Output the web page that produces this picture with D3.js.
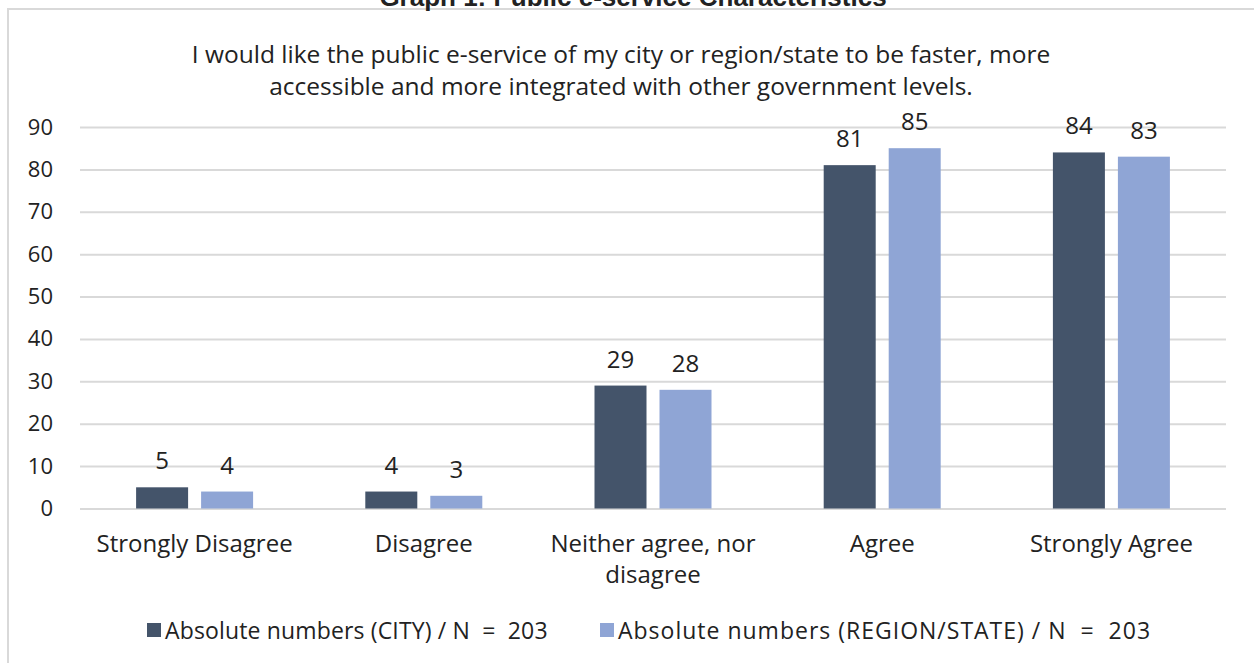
<!DOCTYPE html>
<html>
<head>
<meta charset="utf-8">
<script src="https://cdn.jsdelivr.net/npm/d3@7"></script>
<style>
  body { margin: 0; background: #fff; }
  svg { display: block; font-family: "Open Sans", Lato, sans-serif; }
</style>
</head>
<body>
<svg id="chart" width="1254" height="663"></svg>
<script>
/* Chart data */
var categories = ["Strongly Disagree", "Disagree", "Neither agree, nor disagree", "Agree", "Strongly Agree"];
var cityValues = [5, 4, 29, 81, 84];
var regionValues = [4, 3, 28, 85, 83];
var seriesNames = ["Absolute numbers (CITY) / N  =  203", "Absolute numbers (REGION/STATE) / N  =  203"];
var yTicks = [0, 10, 20, 30, 40, 50, 60, 70, 80, 90];

var colors = ["#44546a", "#8fa5d5"];
var svg = d3.select("#chart");

// outer frame, cut by the window on right and bottom
svg.append("rect")
    .attr("x", 8).attr("y", 9)
    .attr("width", 1300).attr("height", 700)
    .attr("fill", "#fff")
    .attr("stroke", "#d9d9d9")
    .attr("stroke-width", 2);

// title of the graph, mostly cut off by the top edge
svg.append("text")
    .attr("x", 633).attr("y", 6)
    .attr("text-anchor", "middle")
    .style("font-family", "'Liberation Sans Narrow', 'Liberation Sans', sans-serif")
    .style("font-weight", "bold")
    .style("font-size", "26px")
    .attr("fill", "#222")
    .text("Graph 1: Public e-service Characteristics");

// chart subtitle
var sub = svg.append("text")
    .attr("text-anchor", "middle")
    .style("font-size", "24.5px")
    .attr("fill", "#222");
sub.append("tspan").attr("x", 621).attr("y", 63)
    .text("I would like the public e-service of my city or region/state to be faster, more");
sub.append("tspan").attr("x", 621).attr("y", 95)
    .text("accessible and more integrated with other government levels.");

// scales
var x = d3.scaleBand().domain(categories).range([80, 1226]);
var y = d3.scaleLinear().domain([0, 90]).range([508.5, 127]);
var barW = 52, gap = 13;

// gridlines + y labels
var yAxis = svg.append("g")
    .attr("transform", "translate(80,0)")
    .call(d3.axisLeft(y).tickValues(yTicks).tickSize(-1146).tickPadding(27).tickFormat(d3.format("d")));
yAxis.select(".domain").remove();
yAxis.selectAll(".tick line").attr("stroke", "#d9d9d9").attr("stroke-width", 2);
yAxis.selectAll(".tick text")
    .style("font-size", "22px")
    .style("font-family", "'Open Sans', Lato, sans-serif")
    .attr("fill", "#222");

// bars
var series = [cityValues, regionValues];
series.forEach(function(vals, s) {
    svg.append("g").selectAll("rect")
        .data(vals)
        .enter().append("rect")
        .attr("x", function(d, i) {
            var c = x(categories[i]) + x.bandwidth() / 2;
            return s === 0 ? c - gap / 2 - barW : c + gap / 2;
        })
        .attr("y", function(d) { return y(d); })
        .attr("width", barW)
        .attr("height", function(d) { return y(0) - y(d); })
        .attr("fill", colors[s]);

    svg.append("g").selectAll("text")
        .data(vals)
        .enter().append("text")
        .attr("x", function(d, i) {
            var c = x(categories[i]) + x.bandwidth() / 2;
            return s === 0 ? c - gap / 2 - barW / 2 : c + gap / 2 + barW / 2;
        })
        .attr("y", function(d) { return y(d) - 18; })
        .attr("text-anchor", "middle")
        .style("font-size", "24px")
        .attr("fill", "#222")
        .text(function(d) { return d; });
});

// category labels (wrapped)
var catLines = {
    "Neither agree, nor disagree": ["Neither agree, nor", "disagree"]
};
categories.forEach(function(c) {
    var lines = catLines[c] || [c];
    var t = svg.append("text")
        .attr("text-anchor", "middle")
        .style("font-size", "24px")
        .attr("fill", "#222");
    lines.forEach(function(l, k) {
        t.append("tspan")
            .attr("x", x(c) + x.bandwidth() / 2)
            .attr("y", 552 + k * 31)
            .text(l);
    });
});

// legend
var legendX = [147, 600];
var legendSpacing = [0.15, 1];
seriesNames.forEach(function(name, s) {
    svg.append("rect")
        .attr("x", legendX[s]).attr("y", 623)
        .attr("width", 14).attr("height", 14)
        .attr("fill", colors[s]);
    svg.append("text")
        .attr("x", legendX[s] + 18).attr("y", 639)
        .style("font-size", "23px")
        .style("letter-spacing", legendSpacing[s] + "px")
        .attr("fill", "#222")
        .attr("xml:space", "preserve")
        .text(name);
});
</script>
</body>
</html>
